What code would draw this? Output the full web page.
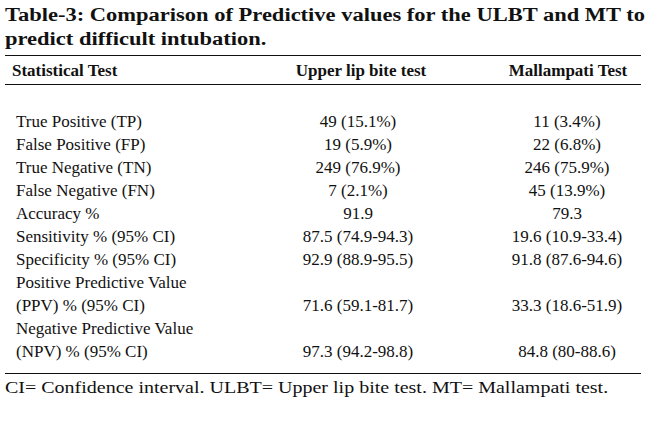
<!DOCTYPE html>
<html><head><meta charset="utf-8">
<script src="https://cdn.jsdelivr.net/npm/chart.js@4/dist/chart.umd.min.js"></script>
<style>
body{margin:0;background:#fff;width:650px;height:426px;position:relative;font-family:"Liberation Serif","DejaVu Serif",serif;color:#111;overflow:hidden}
.t{position:absolute;white-space:nowrap;font-size:17px;line-height:20px}
.b{font-weight:bold}
.w{transform-origin:0 0;transform:scaleX(1.25)}
.hr{position:absolute;left:5px;width:636px;height:0;border-top:1.5px solid #111}
.c{transform:translateX(-50%)}
</style></head><body>
<div class="t b w" style="left:5px;top:5px;font-size:18px">Table-3: Comparison of Predictive values for the ULBT and MT to</div>
<div class="t b w" style="left:5px;top:29px;font-size:18px">predict difficult intubation.</div>
<div class="hr" style="top:55px"></div>
<div class="hr" style="top:84px"></div>
<div class="hr" style="top:373px"></div>
<div id="rows"></div>
<div class="t w" style="left:5px;top:378px;font-size:16px">CI= Confidence interval. ULBT= Upper lip bite test. MT= Mallampati test.</div>
<script>
const headers = ['Statistical Test', 'Upper lip bite test', 'Mallampati Test'];
const tests = ['True Positive (TP)', 'False Positive (FP)', 'True Negative (TN)', 'False Negative (FN)', 'Accuracy %', 'Sensitivity % (95% CI)', 'Specificity % (95% CI)', ['Positive Predictive Value', '(PPV) % (95% CI)'], ['Negative Predictive Value', '(NPV) % (95% CI)']];
const ulbt = ['49 (15.1%)', '19 (5.9%)', '249 (76.9%)', '7 (2.1%)', '91.9', '87.5 (74.9-94.3)', '92.9 (88.9-95.5)', '71.6 (59.1-81.7)', '97.3 (94.2-98.8)'];
const mallampati = ['11 (3.4%)', '22 (6.8%)', '246 (75.9%)', '45 (13.9%)', '79.3', '19.6 (10.9-33.4)', '91.8 (87.6-94.6)', '33.3 (18.6-51.9)', '84.8 (80-88.6)'];

const rows = document.getElementById('rows');
function put(text, x, y, cls) {
    const d = document.createElement('div');
    d.className = 't ' + (cls || '');
    d.style.left = x + 'px';
    d.style.top = y + 'px';
    d.textContent = text;
    rows.appendChild(d);
}
put(headers[0], 12, 61, 'b');
put(headers[1], 361, 61, 'b c');
put(headers[2], 568, 61, 'b c');
let y = 112;
tests.forEach((name, i) => {
    if (Array.isArray(name)) {
        put(name[0], 16, y);
        put(name[1], 16, y + 23);
        y += 23;
    } else {
        put(name, 16, y);
    }
    put(ulbt[i], 358, y, 'c');
    put(mallampati[i], 567, y, 'c');
    y += 23;
});
</script>
</body></html>
